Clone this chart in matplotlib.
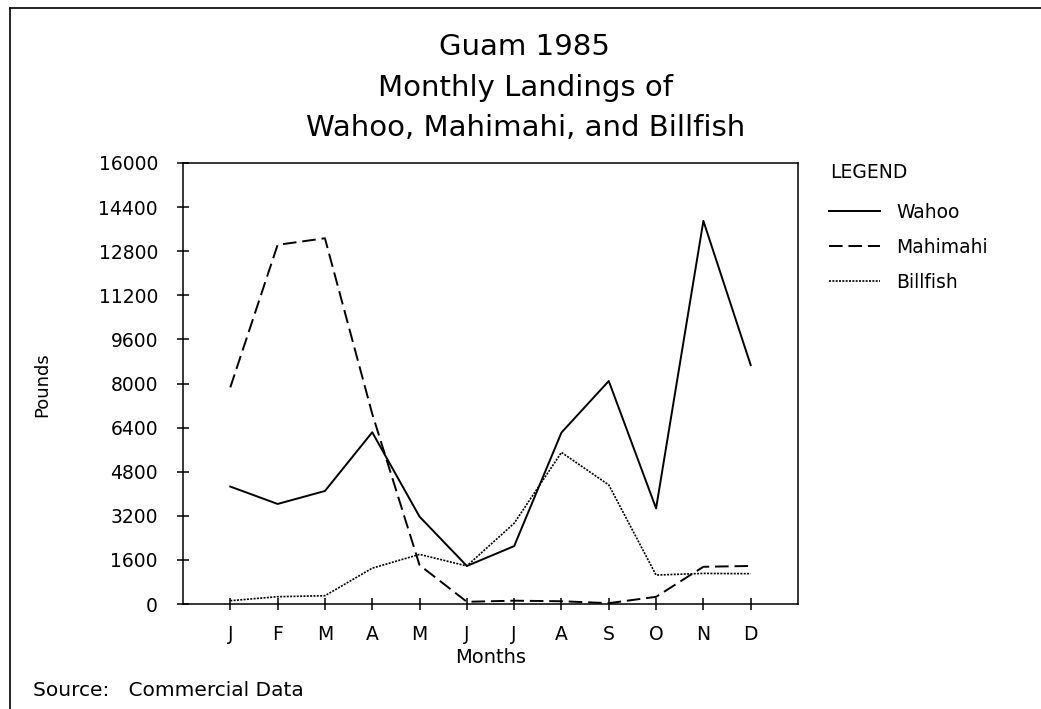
#!/usr/bin/env python3

# Guam 1985 monthly landings of wahoo, mahimahi and billfish

import numpy as np
import matplotlib
matplotlib.use("Agg")
import matplotlib.pyplot as plt
from matplotlib.lines import Line2D

months = ["J", "F", "M", "A", "M", "J", "J", "A", "S", "O", "N", "D"]

# pounds landed per month
wahoo = [4260, 3630, 4100, 6230, 3170, 1380, 2100, 6220, 8090, 3470, 13900, 8670]
mahimahi = [7860, 13030, 13270, 6900, 1410, 80, 120, 100, 30, 260, 1350, 1380]
billfish = [120, 265, 300, 1300, 1800, 1380, 2930, 5500, 4320, 1050, 1110, 1100]

y_ticks = [0, 1600, 3200, 4800, 6400, 8000, 9600, 11200, 12800, 14400, 16000]

plt.rcParams['font.family'] = ['DejaVu Sans']

W, H = 1041, 709
fig = plt.figure(figsize=(W / 100, H / 100), dpi=100)
ax = fig.add_axes([183 / W, 1 - 604 / H, (798 - 183) / W, (604 - 163) / H])

x = np.arange(1, len(months) + 1)
ax.plot(x, wahoo, color='k', lw=1.4, linestyle='-', label="Wahoo")
ax.plot(x, mahimahi, color='k', lw=1.4, linestyle=(0, (7, 3)), label="Mahimahi")
ax.plot(x, billfish, color='k', lw=1.2, linestyle=(0, (1.2, 0.8)), label="Billfish")

ax.set_xlim(0, 13)
ax.set_ylim(0, 16000)
ax.set_xticks(x)
ax.set_xticklabels(months)
ax.set_yticks(y_ticks)
ax.set_yticklabels([str(v) for v in y_ticks])
ax.tick_params(axis='both', direction='inout', length=8, width=1.1,
               labelsize=13.5, colors='k')
ax.tick_params(axis='x', pad=11)
ax.tick_params(axis='y', pad=14)
for sp in ax.spines.values():
    sp.set_linewidth(1.1)

ax.set_xlabel("Months", fontsize=14, labelpad=3)

fig.text(42 / W, 1 - 385 / H, "Pounds", rotation=90, ha='center', va='center',
         fontsize=13, family=['Liberation Sans Narrow', 'DejaVu Sans'])

# title block
fig.text(524 / W, 1 - 47 / H, "Guam 1985", ha='center', va='center', fontsize=21)
fig.text(526 / W, 1 - 88 / H, "Monthly Landings of", ha='center', va='center', fontsize=21)
fig.text(526 / W, 1 - 128 / H, "Wahoo, Mahimahi, and Billfish", ha='center', va='center',
         fontsize=21)

fig.text(33 / W, 1 - 690 / H, "Source:   Commercial Data", ha='left', va='center',
         fontsize=14.5)

# legend
fig.text(830 / W, 1 - 172 / H, "LEGEND", ha='left', va='center', fontsize=13.5)
ax.legend(loc='upper left', bbox_to_anchor=(829 / W, 1 - 203 / H),
          bbox_transform=fig.transFigure, frameon=False, fontsize=13.5,
          borderaxespad=0, borderpad=0, handlelength=2.7, handletextpad=0.9,
          labelspacing=0.85)

# page frame
fig.add_artist(Line2D([10 / W, 10 / W], [0, 1 - 8 / H], color='k', lw=1.2))
fig.add_artist(Line2D([10 / W, 1], [1 - 8 / H, 1 - 8 / H], color='k', lw=1.2))

fig.savefig("out.png", dpi=100)
